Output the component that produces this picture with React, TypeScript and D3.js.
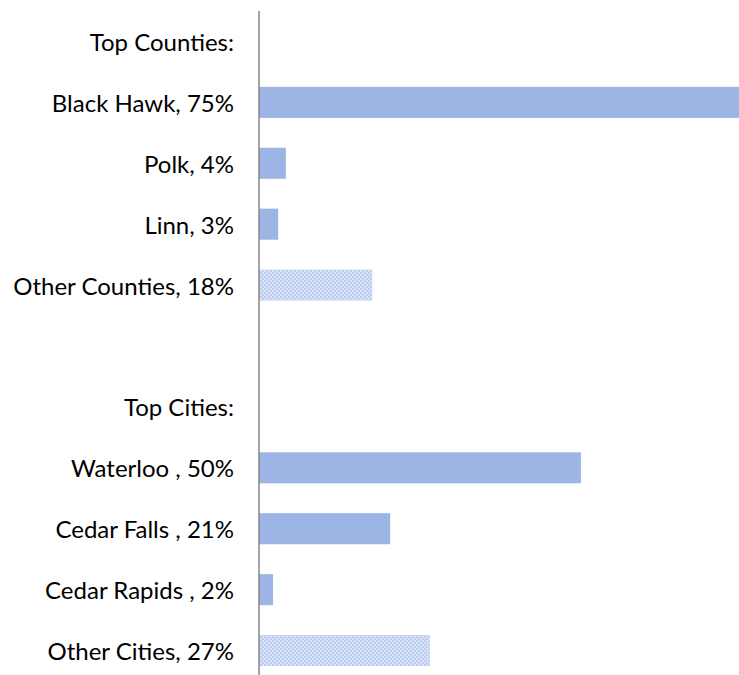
import React from "react";
import * as d3 from "d3";

const categories = [
  "Top Counties:",
  "Black Hawk, 75%",
  "Polk, 4%",
  "Linn, 3%",
  "Other Counties, 18%",
  "",
  "Top Cities:",
  "Waterloo , 50%",
  "Cedar Falls , 21%",
  "Cedar Rapids , 2%",
  "Other Cities, 27%",
];
const values: (number | null)[] = [null, 75, 4.2, 3.0, 17.7, null, null, 50.3, 20.5, 2.2, 26.7];
const isOther = [false, false, false, false, true, false, false, false, false, false, true];

const W = 739;
const H = 675;

export default function App() {
  const axisX = 259;
  const y = d3
    .scaleBand<number>()
    .domain(d3.range(categories.length))
    .range([11, 681])
    .paddingInner(0.49)
    .paddingOuter(0.245);
  const x = d3.scaleLinear().domain([0, 75]).range([axisX, W]);
  const step = y.step();
  return (
    <svg
      width={W}
      height={H}
      style={{ position: "absolute", left: 0, top: 0, background: "#fff" }}
    >
      <defs>
        <pattern id="dots" width="4" height="4" patternUnits="userSpaceOnUse">
          <rect width="4" height="4" fill="#d3def6" />
          <rect x="0" y="0" width="2" height="2" fill="#b9cbef" />
          <rect x="2" y="2" width="2" height="2" fill="#b9cbef" />
          <rect x="3" y="0" width="1" height="1" fill="#eef2fb" />
          <rect x="1" y="2" width="1" height="1" fill="#eef2fb" />
        </pattern>
      </defs>
      {categories.map((c, i) => {
        const v = values[i];
        const cy = 11 + step * (i + 0.5);
        return (
          <g key={i}>
            {v !== null && (
              <rect
                x={x(0)}
                y={y(i)}
                width={x(v) - x(0)}
                height={y.bandwidth()}
                fill={isOther[i] ? "url(#dots)" : "#9db5e4"}
              />
            )}
            <text
              x={234}
              y={cy}
              textAnchor="end"
              dominantBaseline="central"
              fontFamily="Lato, 'Open Sans', sans-serif"
              fontSize={24}
              fill="#000"
            >
              {c}
            </text>
          </g>
        );
      })}
      <line x1={axisX} x2={axisX} y1={11} y2={681} stroke="#868686" strokeWidth={1.5} />
    </svg>
  );
}
